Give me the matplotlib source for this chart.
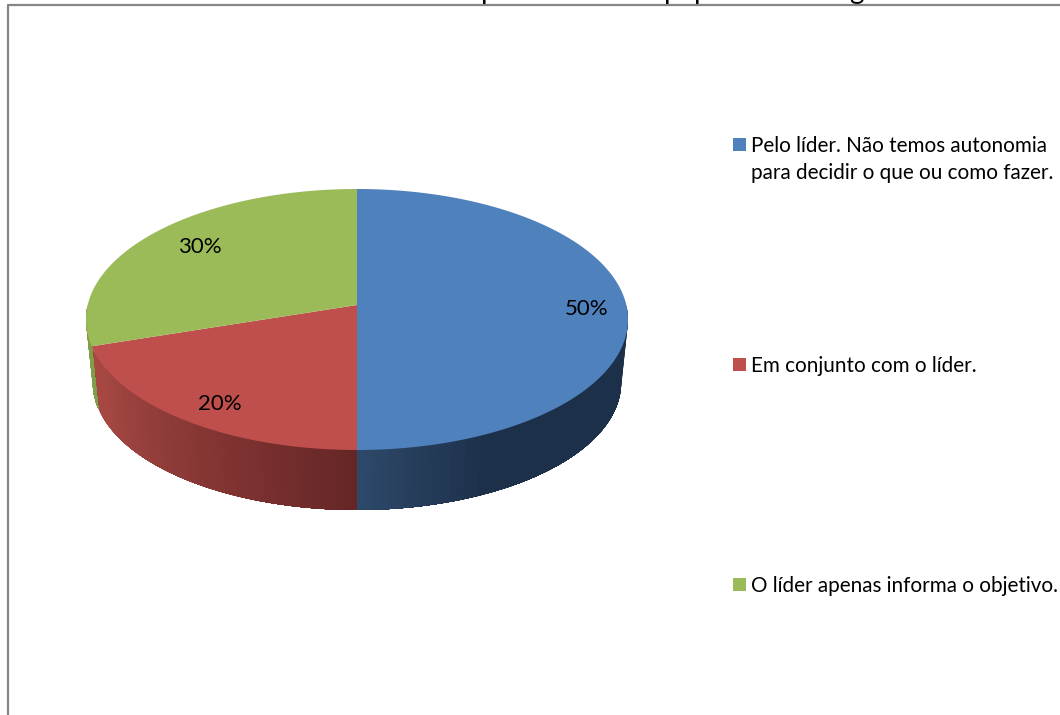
import numpy as np
import matplotlib
matplotlib.use("Agg")
import matplotlib.pyplot as plt
from matplotlib.patches import Rectangle

plt.rcParams['font.family'] = ['Lato', 'DejaVu Sans']

shares = [50, 20, 30]
pct_labels = ["50%", "20%", "30%"]
legend_labels = ["Pelo líder. Não temos autonomia\npara decidir o que ou como fazer.",
                 "Em conjunto com o líder.",
                 "O líder apenas informa o objetivo."]
title_scraps = ["p", "p", "p", "g"]  # the title is cut off, only these descenders show
top_colors = ["#4F81BD", "#BE4F4C", "#9BBB59"]
wall_light = [(0.18, 0.29, 0.42), (0.65, 0.28, 0.26), (0.50, 0.62, 0.28)]
wall_dark = [(0.115, 0.19, 0.29), (0.40, 0.15, 0.15), (0.50, 0.62, 0.28)]

# pie geometry, slightly in perspective
CX, CY = 357, 305
A, B, K = 269.3, 128.9, 1 / 9
DEPTH, SHRINK = 63.6, 0.975


def rim(theta, scale=1.0, drop=0.0):
    u = np.sin(theta)
    v = np.cos(theta)
    w = 1 + K * v
    return CX + scale * A * u / w, CY + drop - scale * B * v / w


fig = plt.figure(figsize=(10.6, 7.15), dpi=100)
ax = fig.add_axes([0, 0, 1, 1])
ax.set_xlim(0, 1060)
ax.set_ylim(715, 0)
ax.axis("off")

edges = np.cumsum([0] + shares) / sum(shares) * 2 * np.pi

# side wall, only the front half shows
for i in range(len(shares)):
    start = max(edges[i], np.pi / 2)
    stop = min(edges[i + 1], 3 * np.pi / 2)
    if stop <= start:
        continue
    cuts = np.linspace(start, stop, 60)
    # strips overlap, later ones paint over earlier ones
    order = range(len(cuts) - 1) if i == 0 else range(len(cuts) - 2, -1, -1)
    for j in order:
        a0 = cuts[j]
        a1 = cuts[j + 1]
        if i == 0:
            t = np.linspace(a0, stop, 40)
            f = np.clip(1 - (np.pi - a0) / 0.45, 0, 1)
            col = np.array(wall_dark[i]) * (1 - f) + np.array(wall_light[i]) * f
        else:
            t = np.linspace(start, a1, 40)
            f = 1 - np.clip(abs(a0 - np.pi) / 1.1, 0, 1)
            col = np.array(wall_light[i]) * (1 - f) + np.array(wall_dark[i]) * f
        x1, y1 = rim(t)
        x2, y2 = rim(t[::-1], SHRINK, DEPTH)
        ax.fill(np.r_[x1, x2], np.r_[y1, y2], color=col, lw=0, zorder=2)

# top face
for i in range(len(shares)):
    t = np.linspace(edges[i], edges[i + 1], 200)
    x, y = rim(t)
    ax.fill(np.r_[CX, x], np.r_[CY, y], color=top_colors[i], lw=0, zorder=3)

ax.text(587, 309, pct_labels[0], fontsize=16, ha="center", va="center", zorder=4)
ax.text(220, 404, pct_labels[1], fontsize=16, ha="center", va="center", zorder=4)
ax.text(200, 247, pct_labels[2], fontsize=16, ha="center", va="center", zorder=4)

# what is left of the title above the frame
for s, x in zip(title_scraps, [481, 664, 694, 849]):
    ax.text(x, -1.5, s, fontsize=20, ha="left", va="baseline", zorder=4)

# chart frame
ax.plot([7.5, 7.5, 1060], [715, 5, 5], color="#868686", lw=1.6, zorder=5)

# legend
leg_y = [144.5, 364.5, 584]
for lab, col, y in zip(legend_labels, top_colors, leg_y):
    ax.add_patch(Rectangle((733, y - 6.5), 13, 13, color=col, lw=0))
    ax.text(751, y - 8.5, lab, fontsize=14.9, va="top", ha="left", linespacing=1.46)

fig.savefig("out.png", dpi=100)
